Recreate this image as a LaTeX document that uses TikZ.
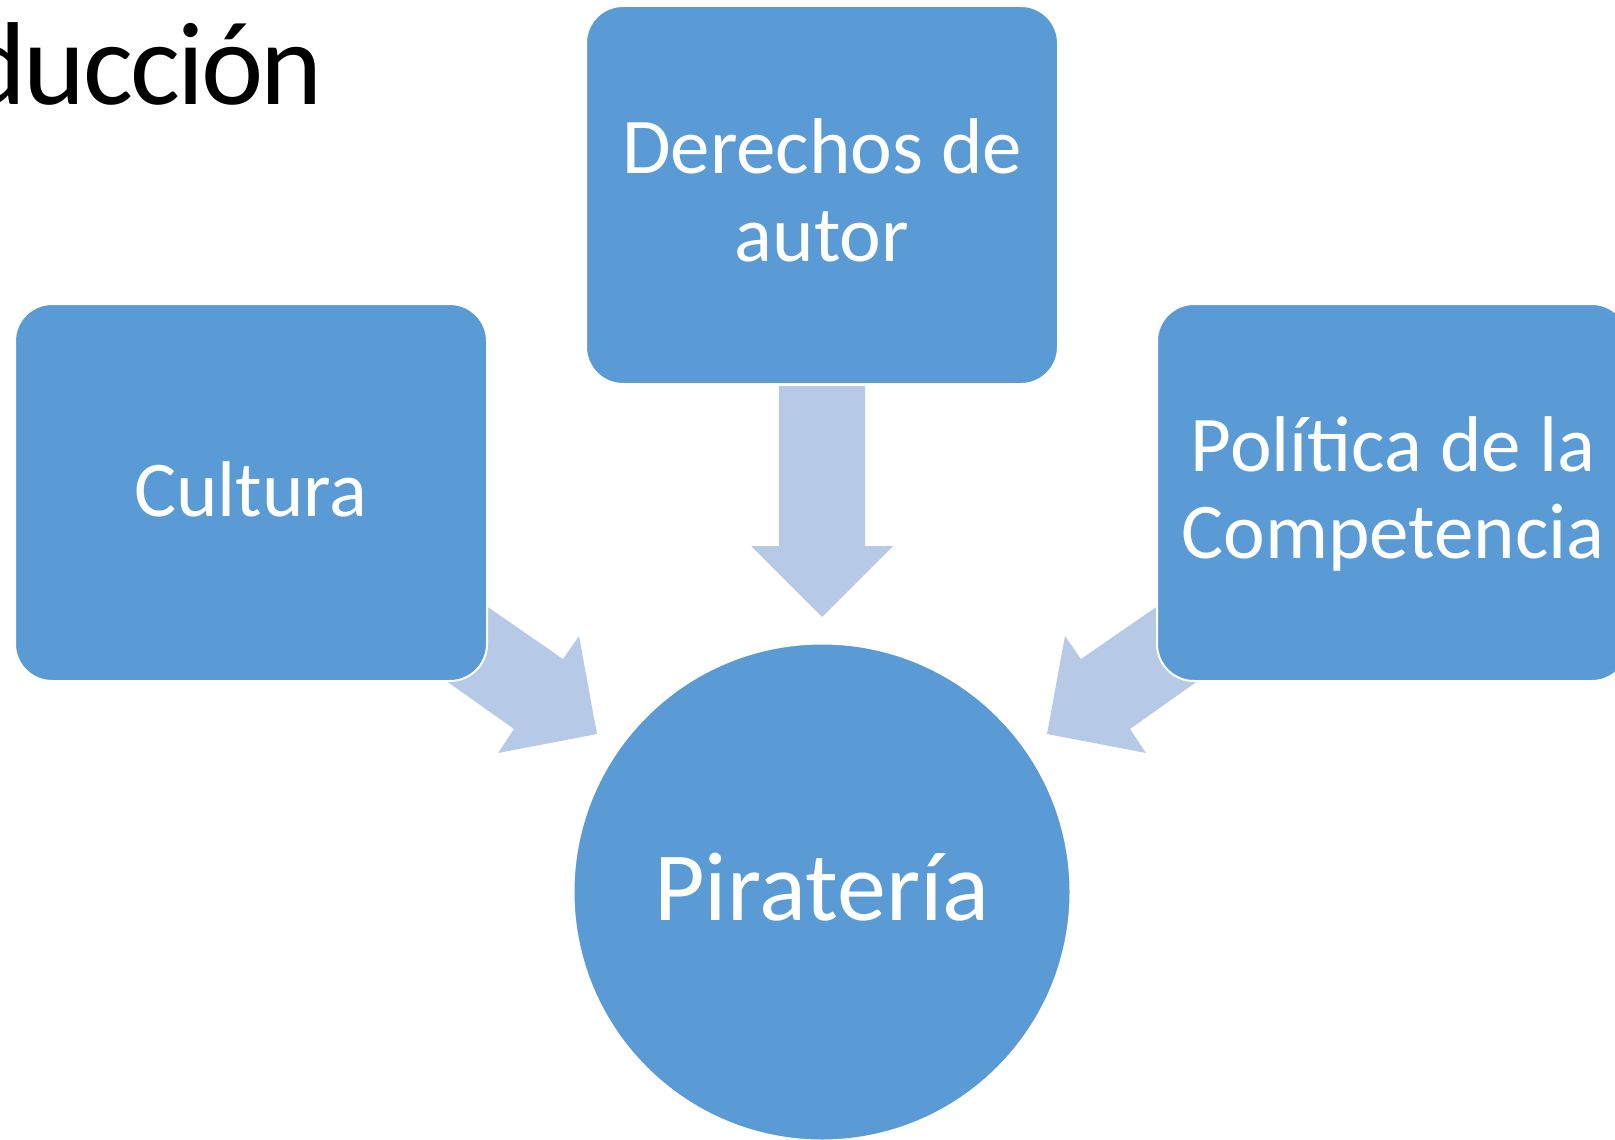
\documentclass[tikz,border=0pt]{standalone}
\usepackage{fontspec}
\setmainfont{Carlito}
\newfontfamily\titlefont[LetterSpace=-2.4]{Carlito}
\definecolor{boxblue}{RGB}{91,155,213}
\definecolor{arrowblue}{RGB}{182,202,232}
\begin{document}
\begin{tikzpicture}[x=1pt,y=-1pt,
  box/.style={rectangle, rounded corners=37pt, fill=boxblue, draw=white, line width=2pt,
              minimum width=472pt, minimum height=377pt, inner sep=0pt},
  hub/.style={circle, fill=boxblue, draw=white, line width=2pt, minimum size=497pt, inner sep=0pt},
  lbl/.style={text=white, inner sep=0pt, anchor=base, font=\fontsize{79}{87}\selectfont},
  blockarrow/.style={fill=arrowblue, draw=none}]
\useasboundingbox (0,0) rectangle (1615,1140);

% title (cut off at the left edge, as in the reference)
\node[anchor=base east, inner sep=0pt, font=\titlefont\fontsize{118}{140}\selectfont] (title) at (323,104) {ducción};

% block arrows (behind the shapes)
\fill[blockarrow] (779,386) -- (865,386) -- (865,546) -- (893,546) -- (822,617) -- (751,546) -- (779,546) -- cycle;
\fill[blockarrow] (440,574) -- (563,659) -- (579,636) -- (597,734) -- (498,753) -- (514,729) -- (401,649) -- cycle;
\fill[blockarrow] (1204,574) -- (1081,659) -- (1065,636) -- (1047,734) -- (1146,753) -- (1130,729) -- (1243,649) -- cycle;

% shapes
\node[box] (cult) at (251,492.5) {};
\node[box, minimum height=378pt] (der) at (822,195) {};
\node[box] (pol) at (1393,492.5) {};
\node[hub] (pir) at (822,892) {};

% labels
\node[lbl] (cultT) at (251,516) {Cultura};
\node[lbl] (derT1) at (822,173) {Derechos de};
\node[lbl] (derT2) at (822,261) {autor};
\node[lbl] (polT1) at (1393,471) {Política de la};
\node[lbl] (polT2) at (1393,558) {Competencia};
\node[lbl, font=\fontsize{98}{110}\selectfont] (pirT) at (822,920) {Piratería};
\end{tikzpicture}
\end{document}
